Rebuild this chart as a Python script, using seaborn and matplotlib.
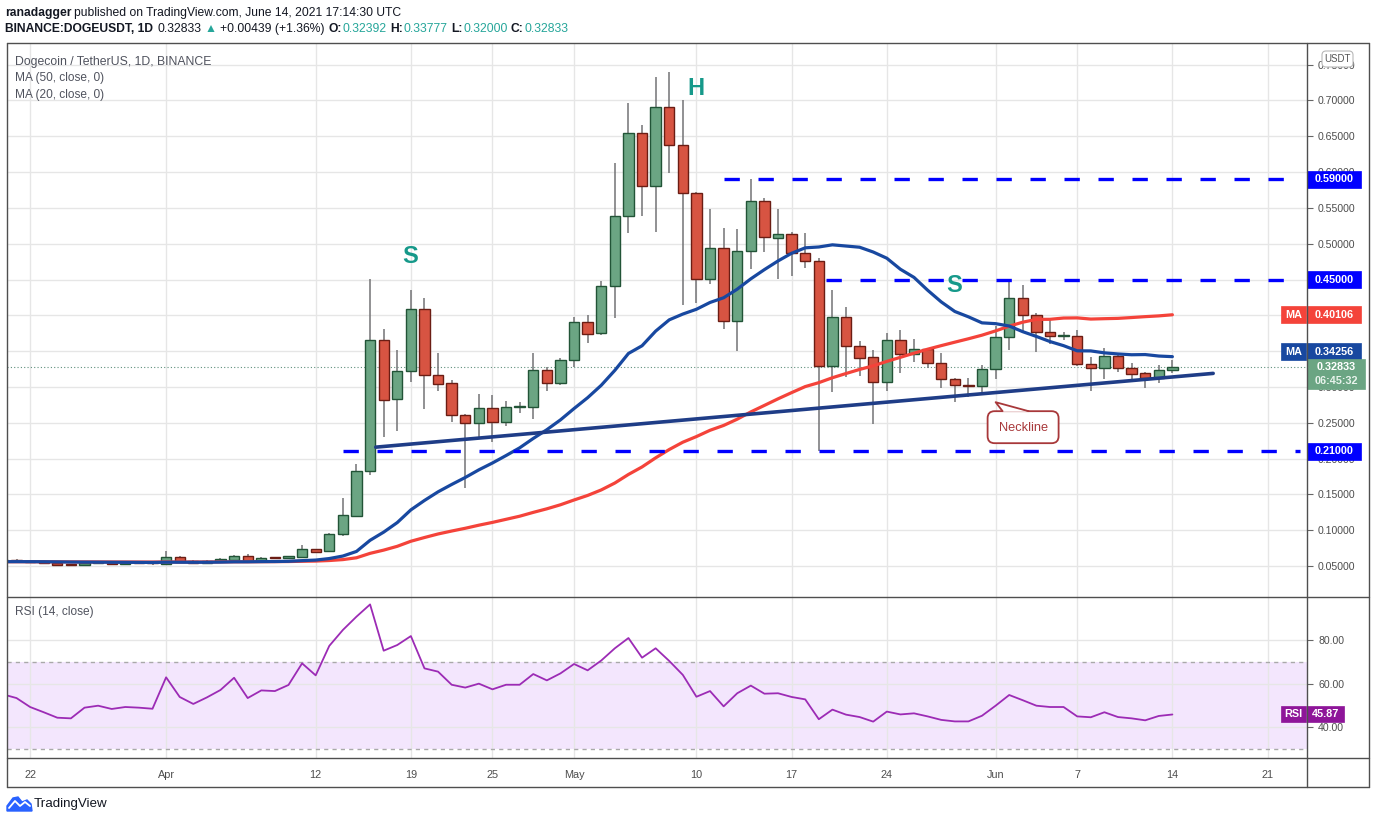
import matplotlib
matplotlib.use("Agg")
import matplotlib.pyplot as plt
import matplotlib.dates as mdates
import matplotlib.transforms as mtransforms
from matplotlib.lines import Line2D
from matplotlib.patches import Rectangle, FancyBboxPatch, Polygon
import numpy as np
import pandas as pd
import seaborn as sns

# daily candles, 20 Mar 2021 .. 14 Jun 2021
start_date = "2021-03-20"
end_date = "2021-06-14"

opens = [
    .0575, .0585, .0572, .0555, .0540, .0520, .0515, .0540, .0545, .0535, .0545, .0542,
    .0535, .0626, .0570, .0542, .0570, .0590, .0640, .0570, .0614, .0610, .0626, .0738, .0710, .0947, .1198,
    .1826, .3653, .2830, .3220, .4085, .3165, .3053, .2607, .2495, .2704, .2509, .2718, .2718, .3234, .3053,
    .3374, .3904, .3750, .4406, .5382, .6540, .5801, .6902, .6372, .5703, .4503, .4936, .3918, .4894, .5591,
    .5075, .5131, .4866, .4754, .3290, .3973, .3569, .3416, .3067, .3653, .3457, .3527, .3332, .3109, .3025, .3011,
    .3248, .3695, .4238, .4001, .3764, .3708, .3715, .3318, .3262, .3430, .3262, .3193, .3123, .32392,
]
highs = [
    .0590, .0592, .0580, .0565, .0560, .0530, .0545, .0550, .0550, .0550, .0550, .0548,
    .0710, .0640, .0590, .0580, .0610, .0660, .0668, .0620, .0630, .0645, .0794, .0745, .0960, .1449, .1923,
    .4504, .3806, .3513, .4350, .4238, .3471, .3095, .2620, .2900, .2886, .2802, .2788, .3471, .3276, .3402,
    .3973, .4001, .4476, .6121, .6958, .6651, .7321, .7391, .7000, .5717, .5480, .5215, .5201, .5898, .5633,
    .5480, .5159, .5145, .4796, .4350, .4113, .3639, .3513, .3750, .3792, .3667, .3541, .3471, .3123, .3123, .3304,
    .3848, .4476, .4420, .4029, .3946, .3764, .3792, .3416, .3541, .3450, .3332, .3210, .3304, .33777,
]
lows = [
    .0565, .0568, .0550, .0535, .0505, .0505, .0510, .0530, .0530, .0528, .0535, .0520,
    .0525, .0550, .0535, .0535, .0560, .0575, .0560, .0565, .0600, .0605, .0620, .0680, .0700, .0920, .1180,
    .1770, .2300, .2384, .3067, .2690, .2942, .2509, .1589, .2272, .2230, .2453, .2635, .2551, .2942, .3025,
    .3276, .3611, .3722, .3960, .5145, .5382, .5159, .5982, .4141, .4169, .4434, .3806, .3499, .4643, .4880,
    .4503, .4545, .4657, .2105, .2927, .3137, .3151, .2481, .2942, .3192, .3346, .3262, .2983, .2788, .2858, .2927,
    .3109, .3513, .3750, .3485, .3597, .3653, .3300, .2942, .3109, .3206, .3109, .2983, .3053, .32000,
]
closes = [
    .0585, .0572, .0555, .0540, .0520, .0515, .0540, .0545, .0535, .0545, .0542, .0540,
    .0626, .0556, .0542, .0570, .0598, .0640, .0570, .0612, .0610, .0635, .0738, .0700, .0947, .1212, .1826,
    .3653, .2816, .3220, .4085, .3165, .3039, .2607, .2495, .2704, .2509, .2718, .2722, .3234, .3053, .3374,
    .3904, .3736, .4406, .5382, .6540, .5801, .6902, .6372, .5703, .4503, .4936, .3918, .4894, .5591, .5089,
    .5131, .4866, .4754, .3290, .3973, .3569, .3402, .3067, .3653, .3457, .3527, .3332, .3109, .3025, .3011, .3248,
    .3695, .4238, .4001, .3764, .3708, .3715, .3318, .3262, .3430, .3262, .3179, .3123, .3239, .32833,
]
rsi = [
    55.1, 53.4, 49.3, 46.9, 44.4, 44.1, 49.0, 49.9, 48.4, 49.3, 49.0, 48.5,
    62.9, 53.9, 50.7, 53.7, 57.1, 62.7, 53.4, 56.9, 56.6, 59.4, 69.3, 63.8, 77.3, 84.6, 90.7,
    96.3, 75.1, 77.7, 81.8, 67.0, 65.5, 59.5, 58.2, 60.0, 57.4, 59.5, 59.5, 64.4, 61.5, 64.7,
    69.0, 66.1, 70.6, 76.2, 80.9, 71.9, 76.2, 70.4, 64.0, 54.0, 56.6, 49.6, 55.6, 59.1, 55.4,
    55.6, 53.9, 52.8, 43.7, 48.1, 45.8, 44.7, 42.6, 47.2, 45.9, 46.4, 45.0, 43.4, 42.7, 42.7, 45.3,
    49.9, 54.8, 52.4, 49.9, 49.3, 49.3, 45.0, 44.6, 46.9, 44.7, 44.1, 43.2, 45.2, 45.87,
]
ma_start = 0.056  # level of both MAs at the left edge (older history not on chart)

last_price = 0.32833
ma50_label = 0.40106
ma20_label = 0.34256
rsi_label = 45.87

price_ticks = [0.05, 0.10, 0.15, 0.20, 0.25, 0.30, 0.35, 0.40, 0.45, 0.50, 0.55, 0.60, 0.65, 0.70, 0.75]
hidden_ticks = [0.35, 0.40, 0.45]  # fully covered by the price tags on the scale
rsi_ticks = [40, 60, 80]
date_ticks = ["2021-03-22", "2021-04-01", "2021-04-12", "2021-04-19", "2021-04-25", "2021-05-01",
              "2021-05-10", "2021-05-17", "2021-05-24", "2021-06-01", "2021-06-07", "2021-06-14", "2021-06-21"]
date_labels = ["22", "Apr", "12", "19", "25", "May", "10", "17", "24", "Jun", "7", "14", "21"]

level_prices = [0.59, 0.45, 0.21]
level_starts = ["2021-05-12", "2021-05-19 12:00", "2021-04-14"]
neck_dates = ["2021-04-16 10:00", "2021-06-17 00:00"]
neck_prices = [0.216, 0.319]
pattern_text = ["S", "H", "S"]
pattern_dates = ["2021-04-18 22:00", "2021-05-10", "2021-05-28 22:00"]
pattern_prices = [0.482, 0.717, 0.441]
neck_label_date = "2021-06-01"
neck_label_price = 0.2788

# colours
UP, UP_EDGE = "#6ba583", "#225437"
DN, DN_EDGE = "#d75442", "#6b1d14"
WICK = "#737375"
MA50_C = "#f4433a"
MA20_C = "#1848a0"
LEVEL_C = "#0000ff"
NECK_C = "#1f3d87"
TEAL = "#16998a"
RSI_C = "#9c2bb5"
RSI_TAG = "#8e1599"
FRAME = "#4f4f4f"
TXT = "#4d4d4d"

sns.set_theme(style="white")
plt.rcParams["font.family"] = ["Liberation Sans", "DejaVu Sans"]

W, H = 1376, 823
fig = plt.figure(figsize=(W / 100, H / 100), dpi=100)


def fx(px):
    return px / W


def fy(py):
    return 1 - py / H


ax = fig.add_axes([fx(7), fy(597), fx(1307) - fx(7), fy(42.5) - fy(597)])
ax_rsi = fig.add_axes([fx(7), fy(758.3), fx(1307) - fx(7), fy(597) - fy(758.3)], sharex=ax)

df = pd.DataFrame({
    "date": pd.date_range(start_date, end_date, freq="D"),
    "open": opens, "high": highs, "low": lows, "close": closes, "rsi": rsi,
})


def sma(n):
    padded = pd.concat([pd.Series([ma_start] * (n - 1)), df["close"]], ignore_index=True)
    return padded.rolling(n).mean().iloc[n - 1:].to_numpy()


df["ma50"] = sma(50)
df["ma20"] = sma(20)

# candles
up = (df["close"] >= df["open"]).to_numpy()
body_lo = df[["open", "close"]].min(axis=1)
body_h = (df["close"] - df["open"]).abs().clip(lower=0.0012)
ax.vlines(df["date"], df["low"], df["high"], color=WICK, lw=1.1, zorder=2)
ax.bar(df["date"], body_h, bottom=body_lo, width=0.76,
       color=np.where(up, UP, DN), edgecolor=np.where(up, UP_EDGE, DN_EDGE), linewidth=1.0, zorder=3)

sns.lineplot(data=df, x="date", y="ma50", ax=ax, color=MA50_C, linewidth=2.3, zorder=4)
sns.lineplot(data=df, x="date", y="ma20", ax=ax, color=MA20_C, linewidth=2.3, zorder=4)

may1 = mdates.date2num(pd.Timestamp("2021-05-01"))
x_left, x_right = may1 - 41.7, may1 + 53.9
ax.set_xlim(x_left, x_right)
ax.set_ylim(0.00684, 0.7809)

for p, s in zip(level_prices, level_starts):
    ax.plot([mdates.date2num(pd.Timestamp(s)), x_right - 0.5], [p, p], color=LEVEL_C, lw=2.4,
            dashes=(4.6, 5.6), zorder=5, solid_capstyle="butt")

ax.plot(mdates.date2num(pd.to_datetime(neck_dates)), neck_prices, color=NECK_C, lw=2.6, zorder=5,
        solid_capstyle="round")

for s, d, p in zip(pattern_text, pattern_dates, pattern_prices):
    ax.text(mdates.date2num(pd.Timestamp(d)), p, s, color=TEAL, fontsize=17, fontweight="bold",
            ha="center", va="center", zorder=6)

ax.axhline(last_price, color="#5f8f7c", lw=0.8, ls=(0, (1, 2)), zorder=1)

# neckline callout, drawn in pixels around its anchor point
callout = mtransforms.Affine2D() + mtransforms.ScaledTranslation(
    mdates.date2num(pd.Timestamp(neck_label_date)), neck_label_price, ax.transData)
RED_TXT = "#a8383a"
ax.add_patch(FancyBboxPatch((-8, -41), 71, 32, boxstyle="round,pad=0,rounding_size=7",
                            transform=callout, fc="white", ec=RED_TXT, lw=1.3, zorder=7))
ax.add_patch(Polygon([(7, -9.6), (0, 0), (33, -9.6)], closed=True, transform=callout,
                     fc="white", ec="none", zorder=8))
ax.add_line(Line2D([7, 0, 33], [-9, 0, -9], transform=callout, color=RED_TXT, lw=1.3, zorder=8))
ax.text(27.5, -25.5, "Neckline", transform=callout, color=RED_TXT, fontsize=9.2,
        ha="center", va="center", zorder=9)

# RSI panel
ax_rsi.axhspan(30, 70, color="#f3e6fd", zorder=0, lw=0)
for lvl in (30, 70):
    ax_rsi.axhline(lvl, color="#a9a9a9", lw=1, dashes=(3, 3), zorder=1)
sns.lineplot(data=df, x="date", y="rsi", ax=ax_rsi, color=RSI_C, linewidth=1.3, zorder=3)
ax_rsi.set_ylim(25.8, 99.7)

# axes cosmetics
tick_nums = mdates.date2num(pd.to_datetime(date_ticks))
for a in (ax, ax_rsi):
    a.set_xlabel("")
    a.set_ylabel("")
    for sp in a.spines.values():
        sp.set_visible(False)
    a.set_axisbelow(True)
    a.grid(True, color="#e6e6e6", lw=1)
    a.yaxis.tick_right()

ax_rsi.set_xticks(tick_nums)
ax_rsi.set_xticklabels(date_labels)
ax.tick_params(axis="x", labelbottom=False, length=0)
ax_rsi.tick_params(axis="x", length=3.6, width=0.8, color="#777777", direction="out", pad=5,
                   labelsize=7.8, labelcolor=TXT)
ax_rsi.set_xlim(x_left, x_right)

ax.set_yticks(price_ticks)
ax.set_yticklabels(["" if any(abs(v - h) < 1e-9 for h in hidden_ticks) else f"{v:.5f}" for v in price_ticks])
ax_rsi.set_yticks(rsi_ticks)
ax_rsi.set_yticklabels([f"{v:.2f}" for v in rsi_ticks])
for a in (ax, ax_rsi):
    a.tick_params(axis="y", length=4, width=0.8, color="#666666", pad=4, labelsize=7.6, labelcolor=TXT)


def tag_box(a, px_per_unit, value, text, color, left=1307, right=1361, up_px=8.5, down_px=8.5,
            shift_px=0.0, size=7.8, tcolor="white"):
    tr = mtransforms.blended_transform_factory(a.transAxes, a.transData)
    xa = (left - 7) / 1300
    xb = (right - 7) / 1300
    y = value + shift_px / px_per_unit
    a.add_patch(FancyBboxPatch((xa, y - down_px / px_per_unit), xb - xa, (up_px + down_px) / px_per_unit,
                               boxstyle="square,pad=0", transform=tr, fc=color, ec=color, lw=0.5,
                               clip_on=False, zorder=20))
    a.text((xa + xb) / 2, y, text, transform=tr, color=tcolor, fontsize=size, fontweight="bold",
           ha="center", va="center", clip_on=False, zorder=21)


PX_MAIN = 717.0
PX_RSI = 2.183
for p in level_prices:
    tag_box(ax, PX_MAIN, p, f"{p:.5f}", LEVEL_C)
tag_box(ax, PX_MAIN, ma50_label, f"{ma50_label:.5f}", MA50_C)
tag_box(ax, PX_MAIN, ma50_label, "MA", MA50_C, left=1281, right=1306)
# the MA(20) tag is pushed up on the scale so it clears the last-price tag
tag_box(ax, PX_MAIN, ma20_label, f"{ma20_label:.5f}", MA20_C, shift_px=5)
tag_box(ax, PX_MAIN, ma20_label, "MA", MA20_C, left=1281, right=1306, shift_px=5)
tag_box(ax, PX_MAIN, last_price, f"{last_price:.5f}", UP, right=1365, up_px=8, down_px=22)
ax.text((1336 - 7) / 1300, last_price - 14.5 / PX_MAIN, "06:45:32",
        transform=mtransforms.blended_transform_factory(ax.transAxes, ax.transData),
        color="#e8f3ec", fontsize=7.8, fontweight="bold", ha="center", va="center", clip_on=False, zorder=22)
tag_box(ax_rsi, PX_RSI, rsi_label, f"{rsi_label:.2f}", RSI_TAG, left=1307, right=1344, up_px=8, down_px=8)
tag_box(ax_rsi, PX_RSI, rsi_label, "RSI", RSI_TAG, left=1281, right=1306, up_px=8, down_px=8)

# legends inside panes
fig.text(fx(15), fy(61.7), "Dogecoin / TetherUS, 1D, BINANCE", fontsize=8.8, color="#50535e", va="center")
fig.text(fx(15), fy(78), "MA (50, close, 0)", fontsize=8.6, color="#50535e", va="center")
fig.text(fx(15), fy(95), "MA (20, close, 0)", fontsize=8.6, color="#50535e", va="center")
fig.text(fx(15), fy(612), "RSI (14, close)", fontsize=8.6, color="#50535e", va="center")


# frame lines
def frame_line(x0, y0, x1, y1):
    fig.add_artist(Line2D([fx(x0), fx(x1)], [fy(y0), fy(y1)], transform=fig.transFigure,
                          color=FRAME, lw=1.0, zorder=30))


frame_line(7, 42.5, 1369, 42.5)
frame_line(7, 786.5, 1369, 786.5)
frame_line(7, 42.5, 7, 786.5)
frame_line(1369, 42.5, 1369, 786.5)
frame_line(1307, 42.5, 1307, 786.5)
frame_line(7, 597, 1369, 597)
frame_line(7, 758.3, 1369, 758.3)

PX = mtransforms.IdentityTransform()
fig.add_artist(FancyBboxPatch((1322, H - 67), 31, 16, boxstyle="round,pad=0,rounding_size=4",
                              transform=PX, fc="white", ec="#b8b8b8", lw=0.8, zorder=31))
fig.text(fx(1337.5), fy(59), "USDT", fontsize=7, color="#555555", ha="center", va="center", zorder=32)

# header
renderer = fig.canvas.get_renderer()


def text_row(x_px, y_px, pieces, size):
    for s, color, weight, gap in pieces:
        t = fig.text(fx(x_px), fy(y_px), s, fontsize=size, color=color, fontweight=weight,
                     ha="left", va="center")
        x_px = t.get_window_extent(renderer).x1 + gap


DARK = "#131722"
VAL = "#26a69a"
text_row(5, 13, [("ranadagger", DARK, "bold", 3),
                 ("published on TradingView.com, June 14, 2021 17:14:30 UTC", DARK, "normal", 0)], 8.7)
text_row(5, 29, [("BINANCE:DOGEUSDT, 1D", DARK, "bold", 5), ("0.32833", DARK, "normal", 3),
                 ("▲", VAL, "normal", 3), ("+0.00439 (+1.36%)", DARK, "normal", 4),
                 ("O:", DARK, "bold", 1), ("0.32392", VAL, "normal", 3),
                 ("H:", DARK, "bold", 1), ("0.33777", VAL, "normal", 3),
                 ("L:", DARK, "bold", 1), ("0.32000", VAL, "normal", 3),
                 ("C:", DARK, "bold", 1), ("0.32833", VAL, "normal", 0)], 8.7)

# TradingView logo
fig.add_artist(Polygon([(7, H - 811), (7, H - 806), (13, H - 798), (18, H - 797), (22, H - 802),
                        (27, H - 800), (31, H - 804), (32, H - 811)], closed=True, transform=PX,
                       fc="#2962ff", ec="#2962ff", lw=1, zorder=31))
fig.add_artist(Line2D([9, 15, 20, 25, 30], [H - 808, H - 801, H - 806, H - 802, H - 806], transform=PX,
                      color="white", lw=1.3, zorder=32))
fig.text(fx(34), fy(804), "TradingView", fontsize=9.6, color=DARK, va="center")

fig.savefig("out.png", dpi=100)
